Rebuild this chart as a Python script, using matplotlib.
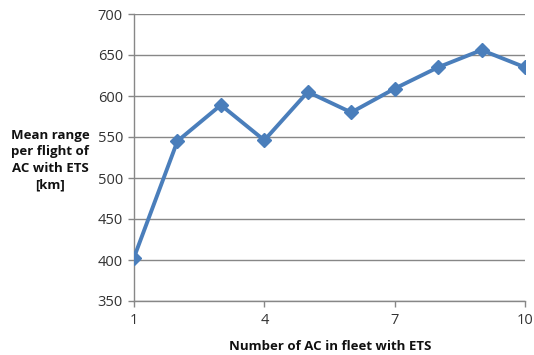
import matplotlib
matplotlib.use("Agg")
import matplotlib.pyplot as plt

fleet_ac = [1, 2, 3, 4, 5, 6, 7, 8, 9, 10]
mean_range_km = [403, 545, 589, 546, 605, 580, 609, 635, 656, 635]
x_ticks = [1, 4, 7, 10]
y_ticks = [350, 400, 450, 500, 550, 600, 650, 700]

plt.rcParams['font.family'] = ['Open Sans', 'DejaVu Sans']

fig = plt.figure(figsize=(5.34, 3.55), dpi=100)
ax = fig.add_axes([134 / 534, 1 - 301 / 355, (525 - 134) / 534, (301 - 14) / 355])

grid_col = '#878787'
ax.plot(fleet_ac, mean_range_km, color='#4A7EBB', linewidth=2.8,
        marker='D', markersize=7, markeredgecolor='#4A7EBB', zorder=3,
        solid_joinstyle='miter')

ax.set_xlim(1, 10)
ax.set_ylim(350, 700)
ax.set_xticks(x_ticks)
ax.set_yticks(y_ticks)
ax.yaxis.grid(True, color=grid_col, linewidth=1.0)
ax.set_axisbelow(True)

for side in ('top', 'right'):
    ax.spines[side].set_visible(False)
for side in ('left', 'bottom'):
    ax.spines[side].set_color(grid_col)
    ax.spines[side].set_linewidth(1.0)

ax.tick_params(axis='both', colors=grid_col, length=4, width=1.0,
               labelsize=10.5, labelcolor='#333333')
ax.tick_params(axis='x', pad=5)
ax.tick_params(axis='y', pad=4)

fig.text(50 / 534, 1 - 160 / 355, 'Mean range\nper flight of\nAC with ETS\n[km]',
         ha='center', va='center', fontsize=9.5, fontweight='bold',
         color='#111111', linespacing=1.35)
fig.text(330 / 534, 1 - 346 / 355, 'Number of AC in fleet with ETS',
         ha='center', va='center', fontsize=9.5, fontweight='bold',
         color='#111111')

fig.savefig('out.png', dpi=100)
